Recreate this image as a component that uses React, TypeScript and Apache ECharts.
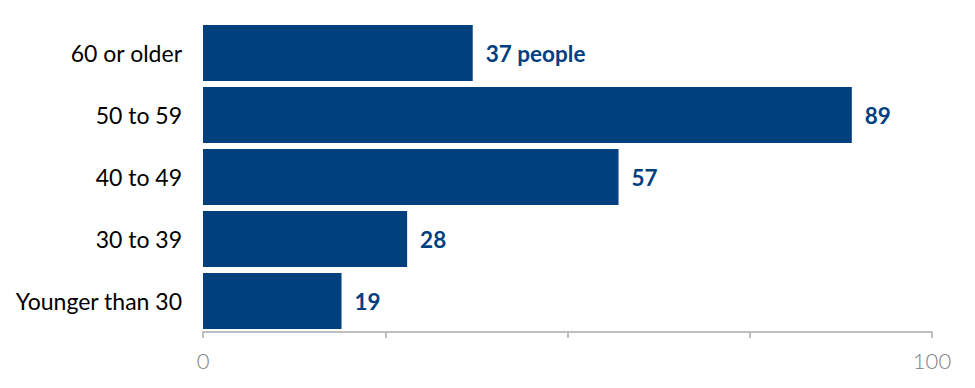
import React, { useEffect, useRef } from "react";
import * as echarts from "echarts";

const categories = ["Younger than 30", "30 to 39", "40 to 49", "50 to 59", "60 or older"];
const values = [19, 28, 57, 89, 37];
const axisTickLabels = [0, 100];

export default function App() {
  const ref = useRef<HTMLDivElement>(null);
  useEffect(() => {
    document.body.style.margin = "0";
    const chart = echarts.init(ref.current!, null, { renderer: "svg" });
    chart.setOption({
      animation: false,
      grid: { left: 203, right: 43, top: 22, bottom: 56, containLabel: false },
      xAxis: {
        type: "value",
        min: 0,
        max: 100,
        interval: 25,
        splitLine: { show: false },
        axisLine: { show: true, lineStyle: { color: "#bfbfbf", width: 2 } },
        axisTick: { show: true, length: 6, lineStyle: { color: "#bfbfbf", width: 2 } },
        axisLabel: {
          color: "#7f7f7f",
          fontFamily: "Lato",
          fontWeight: 300,
          fontSize: 22,
          margin: 17,
          formatter: (v: number) => (axisTickLabels.includes(v) ? String(v) : ""),
        },
      },
      yAxis: {
        type: "category",
        data: categories,
        axisLine: { show: false },
        axisTick: { show: false },
        axisLabel: { color: "#000", fontFamily: "Lato", fontSize: 23, margin: 21 },
      },
      series: [
        {
          type: "bar",
          data: values,
          barCategoryGap: "10%",
          itemStyle: { color: "#00407f" },
          label: {
            show: true,
            position: "right",
            distance: 13,
            color: "#00407f",
            fontFamily: "Lato",
            fontWeight: "bold",
            fontSize: 22.5,
            formatter: (p: any) => (p.dataIndex === categories.length - 1 ? `${p.value} people` : String(p.value)),
          },
        },
      ],
    });
    return () => chart.dispose();
  }, []);
  return <div ref={ref} style={{ width: 975, height: 388 }} />;
}
